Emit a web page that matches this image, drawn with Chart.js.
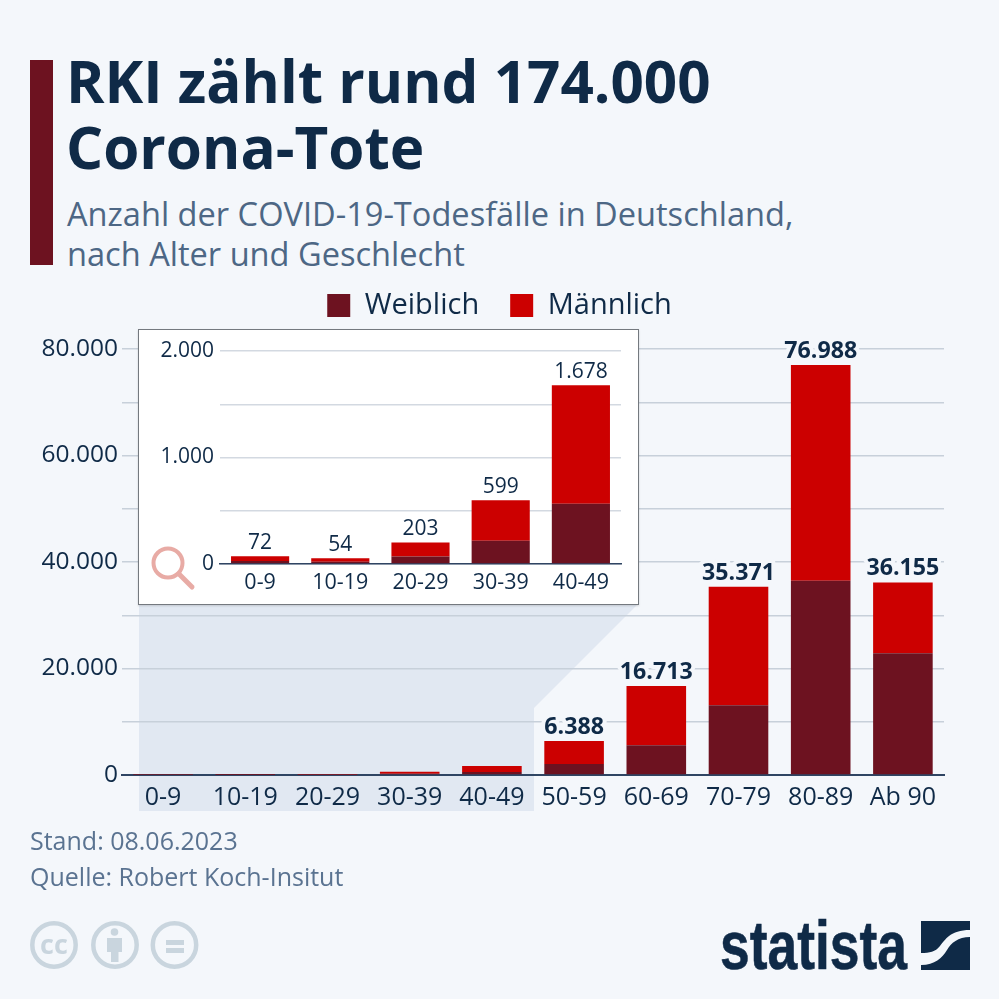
<!DOCTYPE html>
<html><head><meta charset="utf-8">
<script src="https://cdn.jsdelivr.net/npm/chart.js@4"></script>
<style>
html,body{margin:0;padding:0;background:#f4f7fb;width:999px;height:999px;overflow:hidden}
body{position:relative;font-family:"Open Sans",sans-serif}
.abs{position:absolute;white-space:nowrap}
#main{position:absolute;left:0;top:0}
#insetBox{position:absolute;left:138px;top:329px;width:499px;height:274px;background:#fff;border:1.5px solid #74797f;box-shadow:0 1px 2px rgba(0,0,0,.15)}
#inset{position:absolute;left:138px;top:330px}
</style></head><body>
<div class="abs" style="left:30px;top:60px;width:23px;height:205px;background:#6d1220"></div>
<div class="abs" id="t1" style="left:66px;top:48px;font-size:58.4px;line-height:66px;font-weight:700;color:#0f2a47">RKI zählt rund 174.000<br>Corona-Tote</div>
<div class="abs" id="t2" style="left:67px;top:194px;font-size:32.6px;line-height:40px;color:#4d6785">Anzahl der COVID-19-Todesfälle in Deutschland,<br>nach Alter und Geschlecht</div>
<canvas id="main" width="999" height="999"></canvas>
<div id="insetBox"></div>
<canvas id="inset" width="501" height="277"></canvas>
<svg class="abs" style="left:148px;top:543px" width="52" height="52" viewBox="0 0 52 52">
<circle cx="20" cy="20" r="14.5" fill="none" stroke="#e8aba5" stroke-width="4"/>
<line x1="31" y1="31" x2="44" y2="44" stroke="#e8aba5" stroke-width="5" stroke-linecap="round"/></svg>
<div class="abs" style="left:30px;top:824px;font-size:25px;line-height:32px;color:#5a7391">Stand: 08.06.2023</div>
<div class="abs" style="left:30px;top:860px;font-size:25px;line-height:32px;color:#5a7391">Quelle: Robert Koch-Insitut</div>
<svg class="abs" style="left:0;top:900px" width="999" height="99" viewBox="0 900 999 99">
<g fill="none" stroke="#c9d5de" stroke-width="4.5"><circle cx="54" cy="945" r="21.7"/><circle cx="115" cy="945" r="21.7"/><circle cx="174.5" cy="945" r="21.7"/></g>
<text x="54" y="954" text-anchor="middle" font-family="Open Sans" font-weight="700" font-size="27" fill="#c9d5de">cc</text>
<g fill="#c9d5de"><circle cx="114.5" cy="932" r="3.8"/><rect x="107" y="938" width="15" height="14"/><rect x="111" y="952" width="7.5" height="10"/>
<rect x="166" y="940" width="18" height="5"/><rect x="166" y="948" width="18" height="5"/></g>
<text x="720" y="969" font-family="Liberation Sans" font-weight="700" font-size="68" textLength="187" lengthAdjust="spacingAndGlyphs" fill="#0f2a47" stroke="#0f2a47" stroke-width="0.6">statista</text>
<rect x="921" y="921" width="49" height="49" fill="#0f2a47"/>
<path d="M970 930C950 930 945 940 940 946C935 952 930 953 921 953L921 965C935 965 942 958 947 950C951 943 958 937 970 937Z" fill="#f4f7fb"/>
</svg>
<script>
const categories=["0-9","10-19","20-29","30-39","40-49","50-59","60-69","70-79","80-89","Ab 90"];
const femaleValues=[28,22,71,218,565,2060,5600,13100,36500,22850];
const maleValues=[44,32,132,381,1113,4328,11113,22271,40488,13305];
const totalLabels=["","","","","","6.388","16.713","35.371","76.988","36.155"];
const insetCategories=["0-9","10-19","20-29","30-39","40-49"];
const insetFemale=[28,22,71,218,565];
const insetMale=[44,32,132,381,1113];
const insetTotals=[72,54,203,599,1678];
const insetLabels=["72","54","203","599","1.678"];
const NAVY="#0f2a47",RED="#cc0000",DARK="#6d1220",FF="'Open Sans',sans-serif";
Chart.defaults.font.family=FF;
Chart.defaults.animation=false;
const fmt=v=>v===0?"0":String(v).replace(/\B(?=(\d{3})+$)/,".");
function labelsPlugin(labels,totals,font,halo){return{id:"totals",afterDatasetsDraw(c){
 const ctx=c.ctx,x=c.scales.x,y=c.scales.y;ctx.save();ctx.font=font;ctx.textAlign="center";ctx.textBaseline="alphabetic";
 labels.forEach((t,i)=>{if(!t)return;const px=x.getPixelForValue(i),py=y.getPixelForValue(totals[i])-7;
  ctx.lineJoin="round";ctx.lineWidth=8;ctx.strokeStyle=halo;ctx.strokeText(t,px,py);ctx.fillStyle=NAVY;ctx.fillText(t,px,py);});
 ctx.restore();}};}
const shade={id:"shade",beforeDraw(c){const ctx=c.ctx;ctx.save();ctx.fillStyle="#e1e8f2";ctx.beginPath();
 ctx.moveTo(139,604);ctx.lineTo(638,604);ctx.lineTo(534,708);ctx.lineTo(534,811);ctx.lineTo(139,811);ctx.closePath();ctx.fill();ctx.restore();}};
const legendFit={id:"legendFit",beforeInit(c){const fit=c.legend.fit;c.legend.fit=function(){fit.call(this);this.height+=19;};},
 afterLayout(c){c.legend.left=0;c.legend.right=999;}};
const mainTotals=femaleValues.map((v,i)=>v+maleValues[i]);
new Chart(document.getElementById("main"),{type:"bar",
 data:{labels:categories,datasets:[
  {label:"Weiblich",data:femaleValues,backgroundColor:DARK,stack:"a",barPercentage:.725,categoryPercentage:1},
  {label:"Männlich",data:maleValues,backgroundColor:RED,stack:"a",barPercentage:.725,categoryPercentage:1}]},
 options:{responsive:false,layout:{padding:{top:260,right:55,bottom:0,left:0}},
  plugins:{tooltip:{enabled:false},legend:{position:"top",labels:{boxWidth:23,boxHeight:23,padding:31,color:NAVY,font:{size:29}}}},
  scales:{
   x:{stacked:true,afterFit(s){s.height=224},grid:{display:false,drawTicks:false},border:{color:"#2f4563",width:2},
    ticks:{color:NAVY,font:{size:25},padding:8,maxRotation:0,autoSkip:false}},
   y:{stacked:true,min:0,max:80000,afterFit(s){s.width=122},grid:{color:"#c7d0da",lineWidth:1.5,drawTicks:false},border:{display:false},
    ticks:{stepSize:10000,color:NAVY,font:{size:24.5},padding:4,callback:v=>v%20000===0?fmt(v):""}}}},
 plugins:[shade,legendFit,labelsPlugin(totalLabels,mainTotals,"700 23.2px "+FF,"#f4f7fb")]});
new Chart(document.getElementById("inset"),{type:"bar",
 data:{labels:insetCategories,datasets:[
  {label:"Weiblich",data:insetFemale,backgroundColor:DARK,stack:"a",barPercentage:.725,categoryPercentage:1},
  {label:"Männlich",data:insetMale,backgroundColor:RED,stack:"a",barPercentage:.725,categoryPercentage:1}]},
 options:{responsive:false,layout:{padding:{top:21,right:18,bottom:0,left:0}},
  plugins:{tooltip:{enabled:false},legend:{display:false}},
  scales:{
   x:{stacked:true,afterFit(s){s.height=43},grid:{display:false,drawTicks:false},border:{color:"#2f4563",width:1.5},
    ticks:{color:NAVY,font:{size:21.5},padding:6,maxRotation:0,autoSkip:false}},
   y:{stacked:true,min:0,max:2000,afterFit(s){s.width=82},grid:{color:"#d3d9e1",lineWidth:1.5,drawTicks:false},border:{display:false},
    ticks:{stepSize:500,color:NAVY,font:{size:21},padding:6,callback:v=>v%1000===0?fmt(v):""}}}},
 plugins:[labelsPlugin(insetLabels,insetTotals,"400 21px "+FF,"#ffffff")]});
</script>
</body></html>
